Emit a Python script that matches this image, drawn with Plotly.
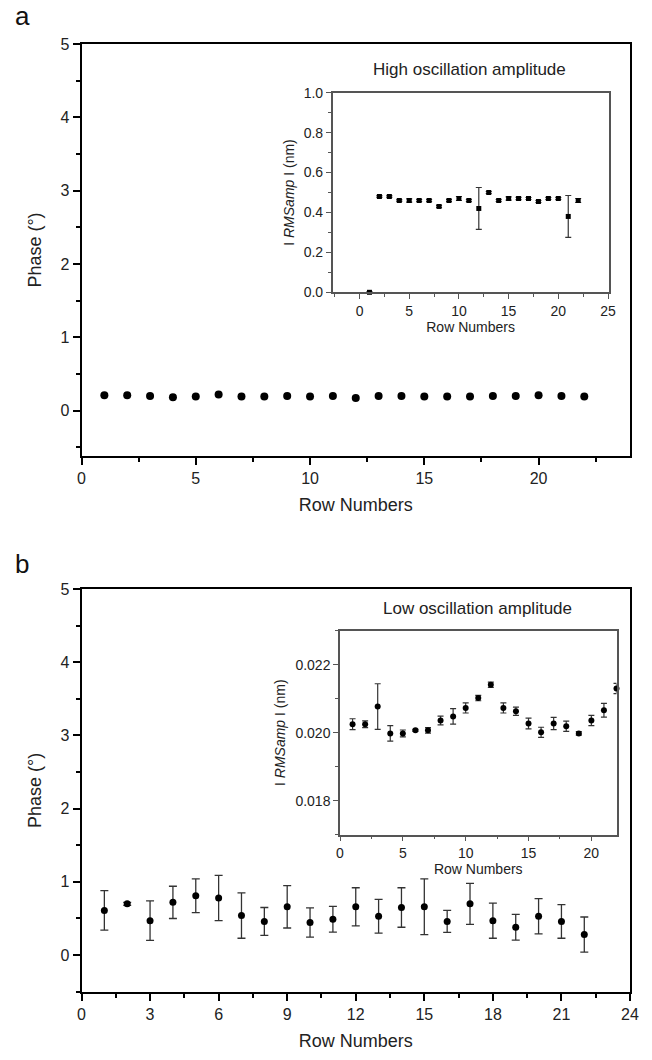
import plotly.graph_objects as go

rows = list(range(1, 23))

# Panel a: high oscillation amplitude
phase_high = [0.21, 0.21, 0.20, 0.18, 0.19, 0.22, 0.19, 0.19, 0.20, 0.19, 0.20,
              0.17, 0.20, 0.20, 0.19, 0.19, 0.19, 0.20, 0.20, 0.21, 0.20, 0.19]
phase_high_err = [0.03, 0.03, 0.02, 0.03, 0.03, 0.03, 0.03, 0.03, 0.02, 0.03, 0.02,
                  0.02, 0.02, 0.02, 0.03, 0.03, 0.03, 0.02, 0.02, 0.03, 0.02, 0.03]
rms_high = [0.00, 0.48, 0.48, 0.46, 0.46, 0.46, 0.46, 0.43, 0.46, 0.47, 0.46,
            0.42, 0.50, 0.46, 0.47, 0.47, 0.47, 0.455, 0.47, 0.47, 0.38, 0.46]
rms_high_err = [0.003, 0.004, 0.004, 0.004, 0.008, 0.005, 0.005, 0.005, 0.005, 0.01, 0.005,
                0.105, 0.005, 0.005, 0.008, 0.006, 0.005, 0.005, 0.005, 0.005, 0.105, 0.01]

# Panel b: low oscillation amplitude
phase_low = [0.61, 0.70, 0.47, 0.72, 0.81, 0.78, 0.54, 0.46, 0.66, 0.445, 0.49,
             0.66, 0.53, 0.65, 0.66, 0.46, 0.70, 0.47, 0.38, 0.53, 0.46, 0.28]
phase_low_err = [0.27, 0.02, 0.27, 0.22, 0.23, 0.31, 0.31, 0.19, 0.29, 0.20, 0.175,
                 0.26, 0.23, 0.27, 0.38, 0.15, 0.28, 0.24, 0.175, 0.24, 0.23, 0.24]
rms_low = [0.02025, 0.02025, 0.02077, 0.01998, 0.01998, 0.02007, 0.02007, 0.02036,
           0.02048, 0.02073, 0.02102, 0.02141, 0.02073, 0.02063, 0.02027, 0.02001,
           0.02027, 0.02019, 0.01998, 0.02036, 0.02066, 0.02130]
rms_low_err = [0.00016, 0.0001, 0.00067, 0.00023, 0.0001, 0.00003, 0.00008, 0.00013,
               0.00023, 0.00015, 0.00008, 0.00008, 0.00015, 0.00012, 0.00016, 0.00015,
               0.00018, 0.00015, 0.00005, 0.00015, 0.0002, 0.00015]

W, H = 652, 1060
FONT = "Liberation Sans, Arial, sans-serif"


def px_x(p):
    return p / W


def px_y(p):
    return 1 - p / H


def err(vals, color="black", width=1.3, cap=3):
    return dict(type="data", array=vals, visible=True, color=color,
                thickness=width, width=cap)


fig = go.Figure()

fig.add_trace(go.Scatter(x=rows, y=phase_high, mode="markers",
                         marker=dict(color="black", size=8, symbol="circle"),
                         error_y=err(phase_high_err, cap=2),
                         xaxis="x", yaxis="y", showlegend=False))
fig.add_trace(go.Scatter(x=rows, y=rms_high, mode="markers",
                         marker=dict(color="black", size=5, symbol="square"),
                         error_y=err(rms_high_err, color="#333", width=1.2, cap=3),
                         xaxis="x2", yaxis="y2", showlegend=False, cliponaxis=False))
fig.add_trace(go.Scatter(x=rows, y=phase_low, mode="markers",
                         marker=dict(color="black", size=7, symbol="circle"),
                         error_y=err(phase_low_err, color="#333", width=1.3, cap=4),
                         xaxis="x3", yaxis="y3", showlegend=False))
fig.add_trace(go.Scatter(x=rows, y=rms_low, mode="markers",
                         marker=dict(color="black", size=6, symbol="circle"),
                         error_y=err(rms_low_err, color="#333", width=1.2, cap=3),
                         xaxis="x4", yaxis="y4", showlegend=False, cliponaxis=False))

main_common = dict(showline=True, linewidth=2, linecolor="black", mirror=True,
                   ticks="outside", ticklen=7, tickwidth=2, tickcolor="black",
                   showgrid=False, zeroline=False, automargin=False,
                   tickfont=dict(family=FONT, size=16, color="#222"))
inset_common = dict(showline=True, linewidth=1.5, linecolor="#555", mirror=True,
                    ticks="outside", ticklen=5, tickwidth=1.2, tickcolor="#555",
                    showgrid=False, zeroline=False, automargin=False,
                    tickfont=dict(family=FONT, size=14, color="#222"))

fig.update_layout(
    width=W, height=H,
    margin=dict(l=0, r=0, t=0, b=0, autoexpand=False),
    paper_bgcolor="white", plot_bgcolor="rgba(0,0,0,0)",
    font=dict(family=FONT, color="#222"),
    xaxis=dict(domain=[px_x(81.5), px_x(630)], anchor="y", range=[0, 24],
               tickmode="linear", tick0=0, dtick=5,
               minor=dict(ticks="outside", ticklen=4, tickwidth=2, dtick=2.5, tickcolor="black"),
               title=dict(text="Row Numbers", font=dict(size=18, family=FONT), standoff=12),
               **main_common),
    yaxis=dict(domain=[px_y(456), px_y(44)], anchor="x", range=[-0.62, 5],
               tickmode="linear", tick0=0, dtick=1,
               minor=dict(ticks="outside", ticklen=4, tickwidth=2, dtick=0.5, tickcolor="black"),
               title=dict(text="Phase (°)", font=dict(size=18, family=FONT), standoff=14),
               **main_common),
    xaxis2=dict(domain=[px_x(332.7), px_x(608.5)], anchor="y2", range=[-2.7, 25.05],
                tickmode="linear", tick0=0, dtick=5,
                minor=dict(ticks="outside", ticklen=3, tickwidth=1.2, dtick=2.5, tickcolor="#555"),
                title=dict(text="Row Numbers", font=dict(size=14, family=FONT), standoff=4),
                **inset_common),
    yaxis2=dict(domain=[px_y(292.3), px_y(92.7)], anchor="x2", range=[0, 1.0],
                tickmode="linear", tick0=0, dtick=0.2, tickformat=".1f",
                minor=dict(ticks="outside", ticklen=3, tickwidth=1.2, dtick=0.1, tickcolor="#555"),
                title=dict(text="I <i>RMSamp</i> I (nm)", font=dict(size=14, family=FONT), standoff=6),
                **inset_common),
    xaxis3=dict(domain=[px_x(81.5), px_x(630)], anchor="y3", range=[0, 24],
                tickmode="linear", tick0=0, dtick=3,
                minor=dict(ticks="outside", ticklen=4, tickwidth=2, dtick=1.5, tickcolor="black"),
                title=dict(text="Row Numbers", font=dict(size=18, family=FONT), standoff=12),
                **main_common),
    yaxis3=dict(domain=[px_y(991.7), px_y(589)], anchor="x3", range=[-0.5, 5],
                tickmode="linear", tick0=0, dtick=1,
                minor=dict(ticks="outside", ticklen=4, tickwidth=2, dtick=0.5, tickcolor="black"),
                title=dict(text="Phase (°)", font=dict(size=18, family=FONT), standoff=14),
                **main_common),
    xaxis4=dict(domain=[px_x(340), px_x(616.5)], anchor="y4", range=[0, 22],
                tickmode="linear", tick0=0, dtick=5,
                minor=dict(ticks="outside", ticklen=3, tickwidth=1.2, dtick=2.5, tickcolor="#555"),
                title=dict(text="Row Numbers", font=dict(size=14, family=FONT), standoff=4),
                **inset_common),
    yaxis4=dict(domain=[px_y(834.7), px_y(630.7)], anchor="x4", range=[0.017, 0.023],
                tickmode="linear", tick0=0.018, dtick=0.002, tickformat=".3f",
                minor=dict(ticks="outside", ticklen=3, tickwidth=1.2, dtick=0.001, tickcolor="#555"),
                title=dict(text="I <i>RMSamp</i> I (nm)", font=dict(size=14, family=FONT), standoff=6),
                **inset_common),
    annotations=[
        dict(text="a", x=px_x(22), y=px_y(16), xref="paper", yref="paper",
             xanchor="center", yanchor="middle",
             showarrow=False, font=dict(size=26, family=FONT, color="#111")),
        dict(text="b", x=px_x(22), y=px_y(564), xref="paper", yref="paper",
             xanchor="center", yanchor="middle",
             showarrow=False, font=dict(size=26, family=FONT, color="#111")),
        dict(text="High oscillation amplitude", x=px_x(470), y=px_y(70), xref="paper", yref="paper",
             xanchor="center", yanchor="middle",
             showarrow=False, font=dict(size=17, family=FONT, color="#222")),
        dict(text="Low oscillation amplitude", x=px_x(477), y=px_y(608), xref="paper", yref="paper",
             xanchor="center", yanchor="middle",
             showarrow=False, font=dict(size=17, family=FONT, color="#222")),
    ],
)

fig.write_html("out.html", config={"displayModeBar": False},
               post_script="document.body.style.margin='0px';")
